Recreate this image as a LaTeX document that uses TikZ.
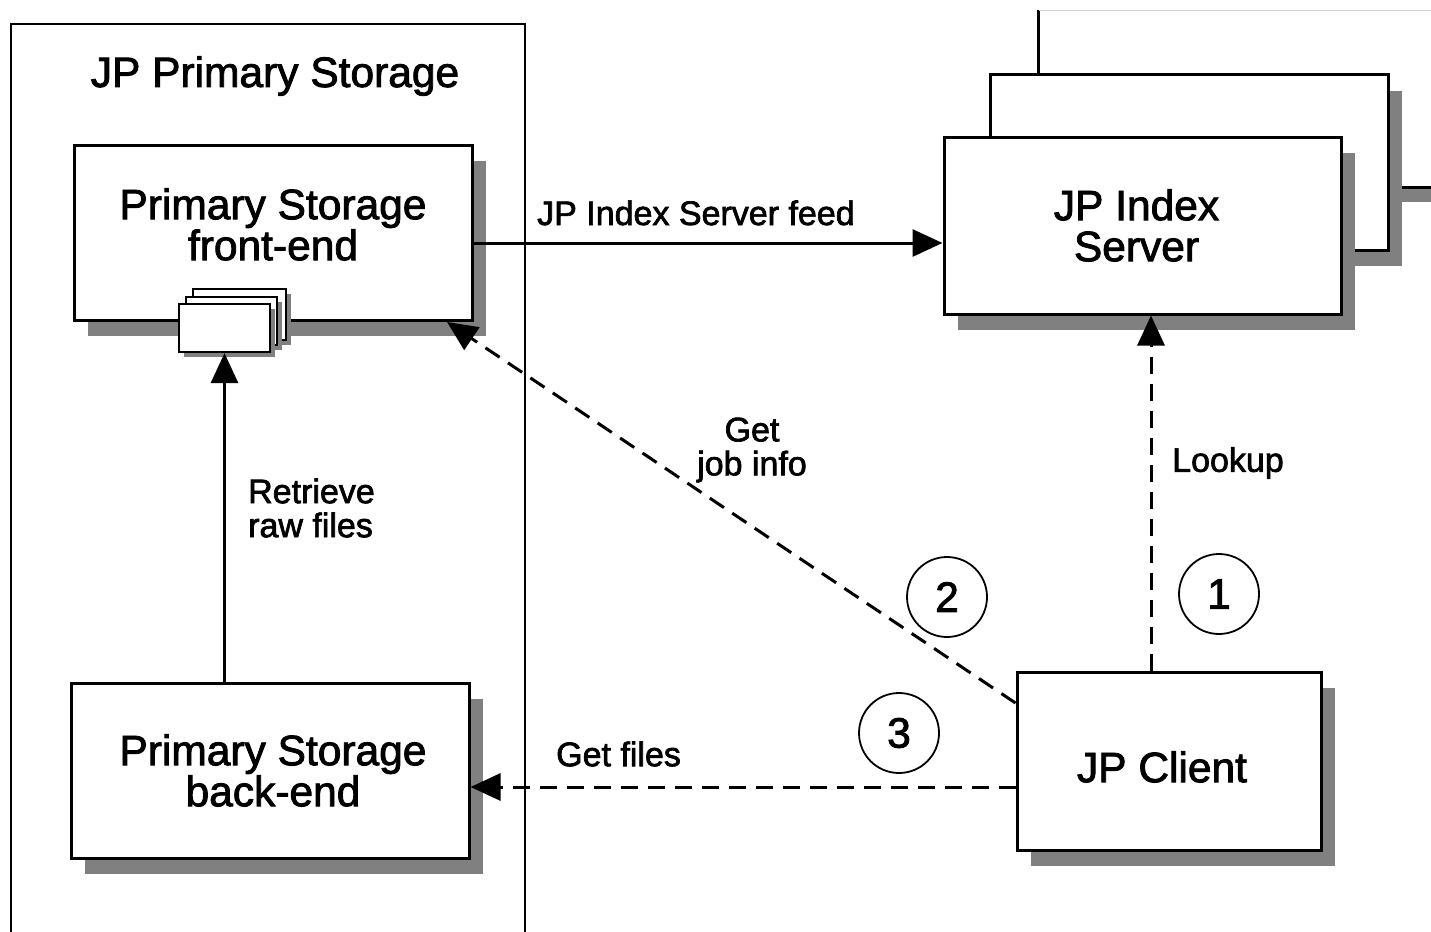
\documentclass[tikz,border=0pt]{standalone}
\usepackage{fontspec}
\setmainfont{Liberation Sans}
\newfontfamily\heavy{Liberation Sans}[FakeBold=2]
\usetikzlibrary{arrows.meta,shadows,calc}
\definecolor{shade}{gray}{0.5}
\tikzset{
  x=1pt,y=-1pt,
  box/.style={draw=black, line width=3pt, fill=white, inner sep=0pt,
    drop shadow={shadow xshift=14pt, shadow yshift=-16pt, fill=shade, opacity=1}},
  btxt/.style={inner sep=0pt, align=center, font=\heavy\fontsize{42.5}{41}\selectfont},
  sbox/.style={draw=black, line width=2.2pt, fill=white, inner sep=0pt,
    drop shadow={shadow xshift=5pt, shadow yshift=-5pt, fill=shade, opacity=1}},
  frame/.style={draw=black, line width=1.3pt, inner sep=0pt},
  lbl/.style={inner sep=0pt, font=\heavy\fontsize{34}{34}\selectfont},
  num/.style={draw=black, circle, line width=1.8pt, minimum size=80pt, inner sep=0pt,
    font=\heavy\fontsize{42.5}{41}\selectfont},
  arr/.style={line width=3pt, -{Triangle[length=30pt,width=27pt]}},
  dsh/.style={arr, dash pattern=on 17pt off 10pt},
}
\begin{document}
\begin{tikzpicture}
\path[use as bounding box, clip] (0,0) rectangle (1431,931);
\fill[white] (0,0) rectangle (1431,931);

% container
\node[frame, minimum width=514pt, minimum height=920pt] (ps) at (268,484) {};
\node[btxt] (pstitle) at (275,76) {JP Primary Storage};

% index server stack
\node[box, draw=none, minimum width=398pt, minimum height=174pt] (idx3) at (1239,99) {};
\draw[line width=3pt] (idx3.north west) -- (idx3.south west) -- (idx3.south east);
\draw[gray!35, line width=1pt] (idx3.north west) -- (idx3.north east);
\node[box, minimum width=398pt, minimum height=175pt] (idx2) at (1189,162.5) {};
\node[box, minimum width=397pt, minimum height=177pt] (idx) at (1142.5,225.5) {};
\node[btxt] (idxt) at ($(idx.center)+(-6,0)$) {JP Index\\Server};

% primary storage boxes
\node[box, minimum width=398pt, minimum height=175pt] (fe) at (273,232.5) {};
\node[btxt] (fet) at ($(fe.center)+(0,-8)$) {Primary Storage\\front-end};
\node[sbox, minimum width=93pt, minimum height=51pt] (s3) at (239.5,314.5) {};
\node[sbox, minimum width=91pt, minimum height=48pt] (s2) at (231.5,321) {};
\node[sbox, minimum width=91pt, minimum height=48pt] (s1) at (224.5,328) {};
\node[box, minimum width=398pt, minimum height=175pt] (be) at (270,770.5) {};
\node[btxt] (bet) at ($(be.center)+(3,0)$) {Primary Storage\\back-end};

% client
\node[box, minimum width=304pt, minimum height=178pt] (client) at (1169,761) {};
\node[btxt] (clientt) at ($(client.center)+(-7,6)$) {JP Client};

% helper coordinates
\coordinate (feedy) at (0,243);
\coordinate (lk) at (1151,500);
\coordinate (jobstart) at (0,703);
\coordinate (jobtip) at (447,322);
\coordinate (filesy) at (0,787);

% connectors
\draw[arr] (fe.east |- feedy) -- (idx.west |- feedy);
\draw[arr] (be.north -| s1.south) -- (s1.south);
\draw[dsh] (client.north -| lk) -- (idx.south -| lk);
\draw[dsh] (client.west |- jobstart) -- (jobtip);
\draw[dsh] (client.west |- filesy) -- (be.east |- filesy);

% labels
\node[lbl, anchor=base west] (lfeed) at (537,225) {JP Index Server feed};
\node[lbl, align=center] (ljob) at (752,450) {Get\\job info};
\node[lbl, anchor=west] (llook) at (1172,463) {Lookup};
\node[lbl, align=left, anchor=west] (lret) at (248,508) {Retrieve\\raw files};
\node[lbl, anchor=west] (lfiles) at (556,754) {Get files};

% step numbers
\node[num] (c1) at (1219,594) {1};
\node[num] (c2) at (947,597) {2};
\node[num] (c3) at (899,733) {3};
\end{tikzpicture}
\end{document}
